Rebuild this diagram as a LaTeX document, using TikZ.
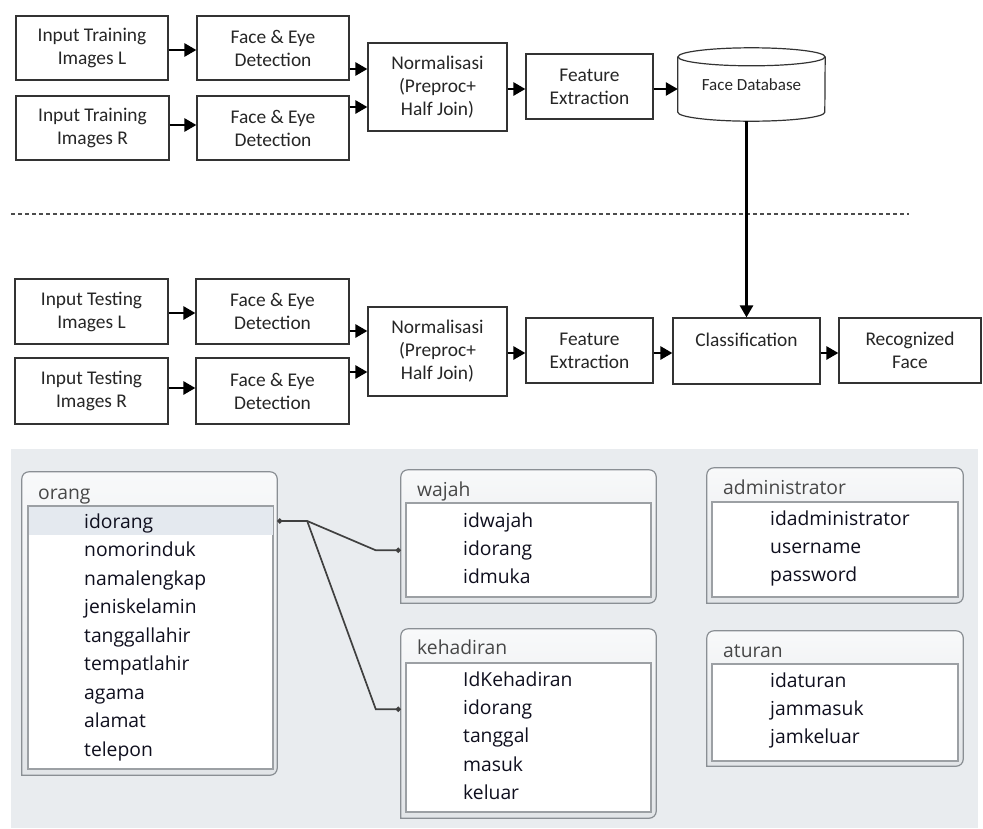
\documentclass[tikz,border=0pt]{standalone}
\usepackage{fontspec}
\setmainfont{Carlito}
\newfontfamily\accessfont{Open Sans}
\usetikzlibrary{arrows.meta,calc}

\definecolor{panelgray}{RGB}{233,236,239}
\definecolor{framegray}{RGB}{138,143,148}
\definecolor{keyrow}{RGB}{228,233,239}
\definecolor{headtop}{RGB}{248,249,250}
\definecolor{headbot}{RGB}{226,229,232}
\definecolor{fieldtext}{RGB}{15,15,30}

\tikzset{
  procbox/.style={draw=black!80, line width=1.2pt, fill=white, align=center, inner sep=2pt,
    font=\fontsize{19.4}{23}\selectfont, text=black!85},
  flow/.style={line width=2.6pt, draw=black, -{Triangle[length=12pt,width=13pt]}},
  dbline/.style={line width=1.2pt, draw=black!80},
  tblframe/.style={inner sep=0pt},
  tblline/.style={draw=framegray, line width=1.2pt, top color=headtop, bottom color=headbot},
  tblbody/.style={draw=framegray!85, line width=1.2pt, fill=white, inner sep=0pt},
  tblhead/.style={anchor=base west, inner sep=0pt, font=\accessfont\fontsize{19.3}{22}\selectfont, text=black!72},
  field/.style={anchor=base west, inner sep=0pt, font=\accessfont\fontsize{19.3}{22}\selectfont, text=fieldtext},
  relation/.style={line width=1.7pt, draw=black!75}
}

\begin{document}
\begin{tikzpicture}[x=1pt, y=-1pt]
\useasboundingbox (0,0) rectangle (983,828);

% training
\node[procbox, minimum width=152pt, minimum height=64pt] (inTrL) at (92,48) {Input Training\\Images L};
\node[procbox, minimum width=152pt, minimum height=64pt] (faceTrL) at (273,48) {Face \& Eye\\Detection};
\node[procbox, minimum width=153pt, minimum height=64pt] (inTrR) at (92.5,128) {Input Training\\Images R};
\node[procbox, minimum width=152pt, minimum height=64pt] (faceTrR) at (273,128) {Face \& Eye\\Detection};
\node[procbox, minimum width=139pt, minimum height=88pt] (normTr) at (437.5,87) {Normalisasi\\(Preproc+\\Half Join)};
\node[procbox, minimum width=127pt, minimum height=65pt] (featTr) at (589.5,86.5) {Feature\\Extraction};
\node[minimum width=147pt, minimum height=73pt, inner sep=0pt, font=\fontsize{17}{20}\selectfont, text=black!85] (db) at (751.5,84.5) {Face Database};
\draw[dbline] ([yshift=-9pt]db.north) ellipse[x radius=73.5pt, y radius=9pt];
\draw[dbline] ([yshift=-9pt]db.north west) -- ([yshift=9pt]db.south west) arc[start angle=180, end angle=360, x radius=73.5pt, y radius=9pt] -- ([yshift=-9pt]db.north east);

\draw[flow] (inTrL.east |- 0,50) -- (faceTrL.west |- 0,50);
\draw[flow] (inTrR.east |- 0,125) -- (faceTrR.west |- 0,125);
\draw[flow] (faceTrL.east |- 0,69) -- (normTr.west |- 0,69);
\draw[flow] (faceTrR.east |- 0,107) -- (normTr.west |- 0,107);
\draw[flow] (normTr.east |- 0,89) -- (featTr.west |- 0,89);
\draw[flow] (featTr.east |- 0,89) -- (db.west |- 0,89);

\draw[line width=1.6pt, draw=black!70, dash pattern=on 4pt off 3pt] (11,214) -- (909,214);

% testing
\node[procbox, minimum width=153pt, minimum height=65pt] (inTeL) at (91.5,311.5) {Input Testing\\Images L};
\node[procbox, minimum width=153pt, minimum height=65pt] (faceTeL) at (272.5,311.5) {Face \& Eye\\Detection};
\node[procbox, minimum width=153pt, minimum height=66pt] (inTeR) at (91.5,391) {Input Testing\\Images R};
\node[procbox, minimum width=153pt, minimum height=66pt] (faceTeR) at (272.5,391) {Face \& Eye\\Detection};
\node[procbox, minimum width=139pt, minimum height=89pt] (normTe) at (437.5,351.5) {Normalisasi\\(Preproc+\\Half Join)};
\node[procbox, minimum width=127pt, minimum height=65pt] (featTe) at (589.5,350.5) {Feature\\Extraction};
\node[procbox, minimum width=147pt, minimum height=66pt] (class) at (746.5,351) {Classification\\~};
\node[procbox, minimum width=142pt, minimum height=65pt] (recog) at (910,350.5) {Recognized\\Face};

\draw[flow] (class.north |- db.south) -- (class.north);
\draw[flow] (inTeL.east |- 0,313) -- (faceTeL.west |- 0,313);
\draw[flow] (inTeR.east |- 0,388) -- (faceTeR.west |- 0,388);
\draw[flow] (faceTeL.east |- 0,331) -- (normTe.west |- 0,331);
\draw[flow] (faceTeR.east |- 0,372) -- (normTe.west |- 0,372);
\draw[flow] (normTe.east |- 0,353) -- (featTe.west |- 0,353);
\draw[flow] (featTe.east |- 0,353) -- (class.west |- 0,353);
\draw[flow] (class.east |- 0,353) -- (recog.west |- 0,353);

% database tables
\fill[panelgray] (11,449) rectangle (978,828);

\node[tblframe, minimum width=255pt, minimum height=303pt] (orang) at (149.5,623.5) {};
\draw[tblline] (orang.south west) [rounded corners=7pt] -- (orang.north west) -- (orang.north east) -- (orang.south east) [sharp corners] -- cycle;
\node[tblbody, minimum width=245pt, minimum height=263pt] (orBody) at (150.5,637.5) {};
\node[fill=keyrow, inner sep=0pt, minimum width=244pt, minimum height=28pt] (orKey) at (150.5,521) {};
\node[tblhead] (orTitle) at (38,499) {orang};
\node[field] (orIdorang) at (84,528) {idorang};
\node[field] (orNomor) at (84,556.5) {nomorinduk};
\node[field] (orNama) at (84,585) {namalengkap};
\node[field] (orJenis) at (84,613.5) {jeniskelamin};
\node[field] (orTgl) at (84,642) {tanggallahir};
\node[field] (orTempat) at (84,670.5) {tempatlahir};
\node[field] (orAgama) at (84,699) {agama};
\node[field] (orAlamat) at (84,727.5) {alamat};
\node[field] (orTelp) at (84,756) {telepon};

\node[tblframe, minimum width=255pt, minimum height=133pt] (wajah) at (528.5,536.5) {};
\draw[tblline] (wajah.south west) [rounded corners=7pt] -- (wajah.north west) -- (wajah.north east) -- (wajah.south east) [sharp corners] -- cycle;
\node[tblbody, minimum width=245pt, minimum height=94pt] (wjBody) at (528.5,550) {};
\node[tblhead] (wjTitle) at (417,496) {wajah};
\node[field] (wjIdwajah) at (463,527) {idwajah};
\node[field] (wjIdorang) at (463,555.3) {idorang};
\node[field] (wjIdmuka) at (463,583.6) {idmuka};

\node[tblframe, minimum width=255pt, minimum height=189pt] (kehadiran) at (528.5,723.5) {};
\draw[tblline] (kehadiran.south west) [rounded corners=7pt] -- (kehadiran.north west) -- (kehadiran.north east) -- (kehadiran.south east) [sharp corners] -- cycle;
\node[tblbody, minimum width=245pt, minimum height=149pt] (khBody) at (528.5,737.5) {};
\node[tblhead] (khTitle) at (417,654) {kehadiran};
\node[field] (khId) at (463,686) {IdKehadiran};
\node[field] (khIdorang) at (463,714.3) {idorang};
\node[field] (khTanggal) at (463,742.6) {tanggal};
\node[field] (khMasuk) at (463,771) {masuk};
\node[field] (khKeluar) at (463,799) {keluar};

\node[tblframe, minimum width=256pt, minimum height=135pt] (admin) at (835,535.5) {};
\draw[tblline] (admin.south west) [rounded corners=7pt] -- (admin.north west) -- (admin.north east) -- (admin.south east) [sharp corners] -- cycle;
\node[tblbody, minimum width=246pt, minimum height=95pt] (adBody) at (835,549.5) {};
\node[tblhead] (adTitle) at (723,494) {administrator};
\node[field] (adId) at (770,525) {idadministrator};
\node[field] (adUser) at (770,553.3) {username};
\node[field] (adPass) at (770,581.6) {password};

\node[tblframe, minimum width=256pt, minimum height=135pt] (aturan) at (835,698.5) {};
\draw[tblline] (aturan.south west) [rounded corners=7pt] -- (aturan.north west) -- (aturan.north east) -- (aturan.south east) [sharp corners] -- cycle;
\node[tblbody, minimum width=246pt, minimum height=97pt] (atBody) at (835,712.5) {};
\node[tblhead] (atTitle) at (723,657) {aturan};
\node[field] (atId) at (770,687) {idaturan};
\node[field] (atMasuk) at (770,715.3) {jammasuk};
\node[field] (atKeluar) at (770,743.6) {jamkeluar};

% relations
\draw[relation, {Circle[length=5pt]}-{Circle[length=5pt]}] (orang.east |- orKey) -- ++(30,0) coordinate (split)
  -- ($(wajah.west |- wjIdorang)+(-25,0)$) -- (wajah.west |- wjIdorang);
\draw[relation, -{Circle[length=5pt]}] (split) -- ($(kehadiran.west |- khIdorang)+(-25,0)$) -- (kehadiran.west |- khIdorang);

\end{tikzpicture}
\end{document}
